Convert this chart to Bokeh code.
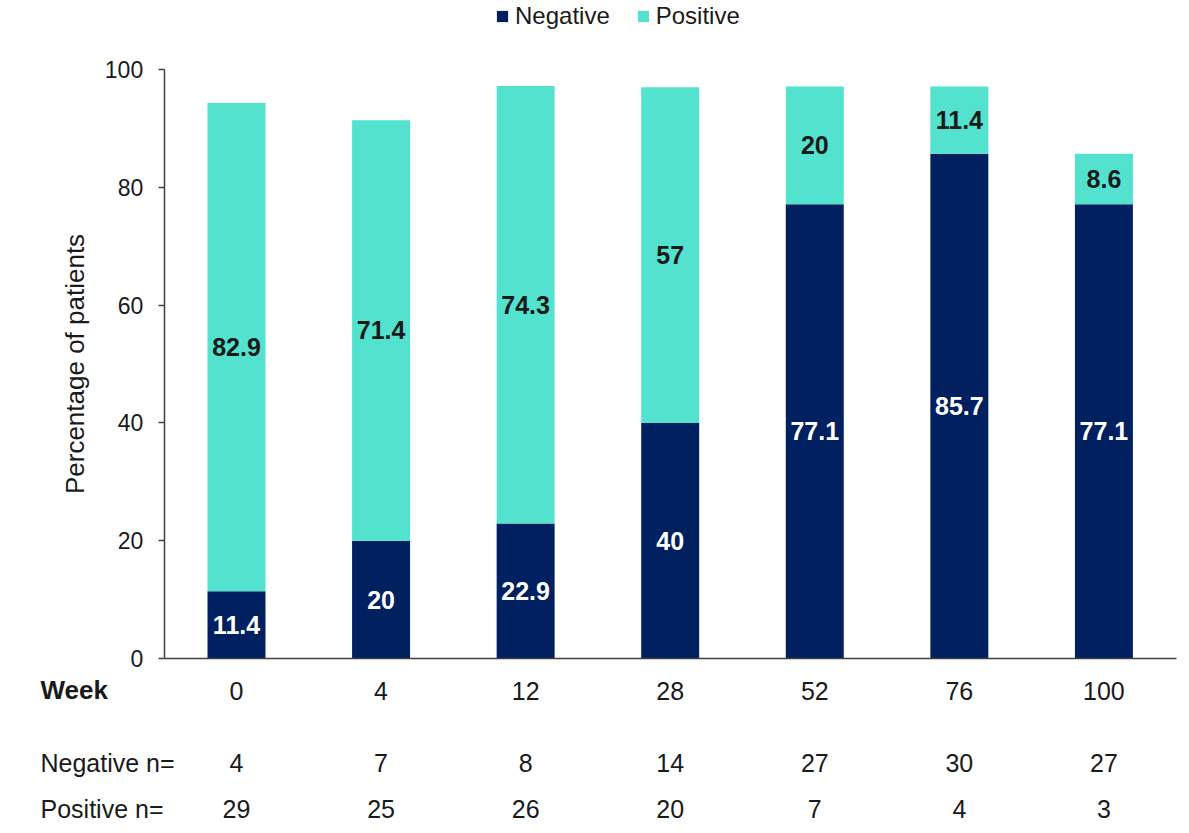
from bokeh.plotting import figure
from bokeh.models import (Range1d, ColumnDataSource, Legend, LegendItem, FixedTicker)
from bokeh.core.properties import value
from bokeh.embed import file_html
from bokeh.resources import INLINE

weeks = ["0", "4", "12", "28", "52", "76", "100"]
negative = [11.4, 20, 22.9, 40, 77.1, 85.7, 77.1]
positive = [82.9, 71.4, 74.3, 57, 20, 11.4, 8.6]
negative_n = ["4", "7", "8", "14", "27", "30", "27"]
positive_n = ["29", "25", "26", "20", "7", "4", "3"]
row_titles = ["Week", "Negative n=", "Positive n="]
y_ticks = [0, 20, 40, 60, 80, 100]

NAVY = "#002060"
TURQ = "#53E2CE"
TXT = "#1a1a1a"
AXC = "#404040"
FONT = "Liberation Sans"

idx = list(range(len(weeks)))
neg_mid = [v / 2 for v in negative]
pos_mid = [n + q / 2 for n, q in zip(negative, positive)]
src = ColumnDataSource(dict(x=idx, Negative=negative, Positive=positive,
                            neg_mid=neg_mid, pos_mid=pos_mid,
                            neg_lab=[f"{v:g}" for v in negative],
                            pos_lab=[f"{v:g}" for v in positive],
                            neg_n=negative_n, pos_n=positive_n))

W, H = 1181, 825
p = figure(x_range=Range1d(-1.6324, 6.5366), y_range=Range1d(-28.35, 111.71),
           width=W, height=H, output_backend="svg", toolbar_location=None,
           min_border=0, min_border_left=0, min_border_right=0,
           min_border_top=0, min_border_bottom=0)
p.outline_line_color = None
p.xgrid.visible = False
p.ygrid.visible = False

rs = p.vbar_stack(["Negative", "Positive"], x="x", width=0.401, source=src,
                  color=[NAVY, TURQ], line_color=None)

legend = Legend(items=[LegendItem(label="Negative", renderers=[rs[0]]),
                       LegendItem(label="Positive", renderers=[rs[1]])],
                orientation="horizontal", location=(495, 795),
                label_text_font=FONT, label_text_font_size="24px", label_text_color=TXT,
                glyph_width=14, glyph_height=14, spacing=26, label_standoff=6,
                border_line_color=None, background_fill_alpha=0,
                padding=0, margin=0)
p.add_layout(legend)

p.text(x="x", y="neg_mid", text="neg_lab", source=src, text_color="white",
       text_font=value(FONT), text_font_style="bold", text_font_size="25px",
       text_align="center", text_baseline="middle")
p.text(x="x", y="pos_mid", text="pos_lab", source=src, text_color=TXT,
       text_font=value(FONT), text_font_style="bold", text_font_size="25px",
       text_align="center", text_baseline="middle")

# table rows under the axis
row_week_y = -5.43
row_neg_y = -17.66
row_pos_y = -25.47
left_x = -1.3557
p.text(x=[left_x], y=[row_week_y], text=[row_titles[0]], text_color=TXT,
       text_font=value(FONT), text_font_style="bold", text_font_size="26px",
       text_align="left", text_baseline="middle")
p.text(x=[left_x, left_x], y=[row_neg_y, row_pos_y], text=row_titles[1:], text_color=TXT,
       text_font=value(FONT), text_font_size="25px",
       text_align="left", text_baseline="middle")
p.text(x="x", y=row_neg_y, text="neg_n", source=src, text_color=TXT,
       text_font=value(FONT), text_font_size="25px",
       text_align="center", text_baseline="middle")
p.text(x="x", y=row_pos_y, text="pos_n", source=src, text_color=TXT,
       text_font=value(FONT), text_font_size="25px",
       text_align="center", text_baseline="middle")

ax = p.yaxis[0]
ax.fixed_location = -0.5
ax.ticker = FixedTicker(ticks=y_ticks)
ax.bounds = (0, 100)
ax.minor_tick_line_color = None
ax.major_tick_in = 0
ax.major_tick_out = 6
ax.axis_line_color = AXC
ax.axis_line_width = 1.5
ax.major_tick_line_color = AXC
ax.major_tick_line_width = 1.5
ax.major_label_text_font = FONT
ax.major_label_text_font_size = "23px"
ax.major_label_text_color = TXT
ax.major_label_standoff = 15
ax.axis_label = "Percentage of patients"
ax.axis_label_text_font = FONT
ax.axis_label_text_font_size = "26px"
ax.axis_label_text_font_style = "normal"
ax.axis_label_text_color = TXT
ax.axis_label_standoff = 12

xa = p.xaxis[0]
xa.fixed_location = 0
xa.ticker = FixedTicker(ticks=idx)
xa.major_label_overrides = {i: w for i, w in zip(idx, weeks)}
xa.bounds = (-0.5, len(weeks) - 0.5)
xa.axis_line_color = AXC
xa.axis_line_width = 1.5
xa.major_tick_line_color = None
xa.minor_tick_line_color = None
xa.major_label_text_font = FONT
xa.major_label_text_font_size = "25px"
xa.major_label_text_color = TXT
xa.major_label_standoff = 17

open("out.html", "w").write(file_html(p, INLINE))
